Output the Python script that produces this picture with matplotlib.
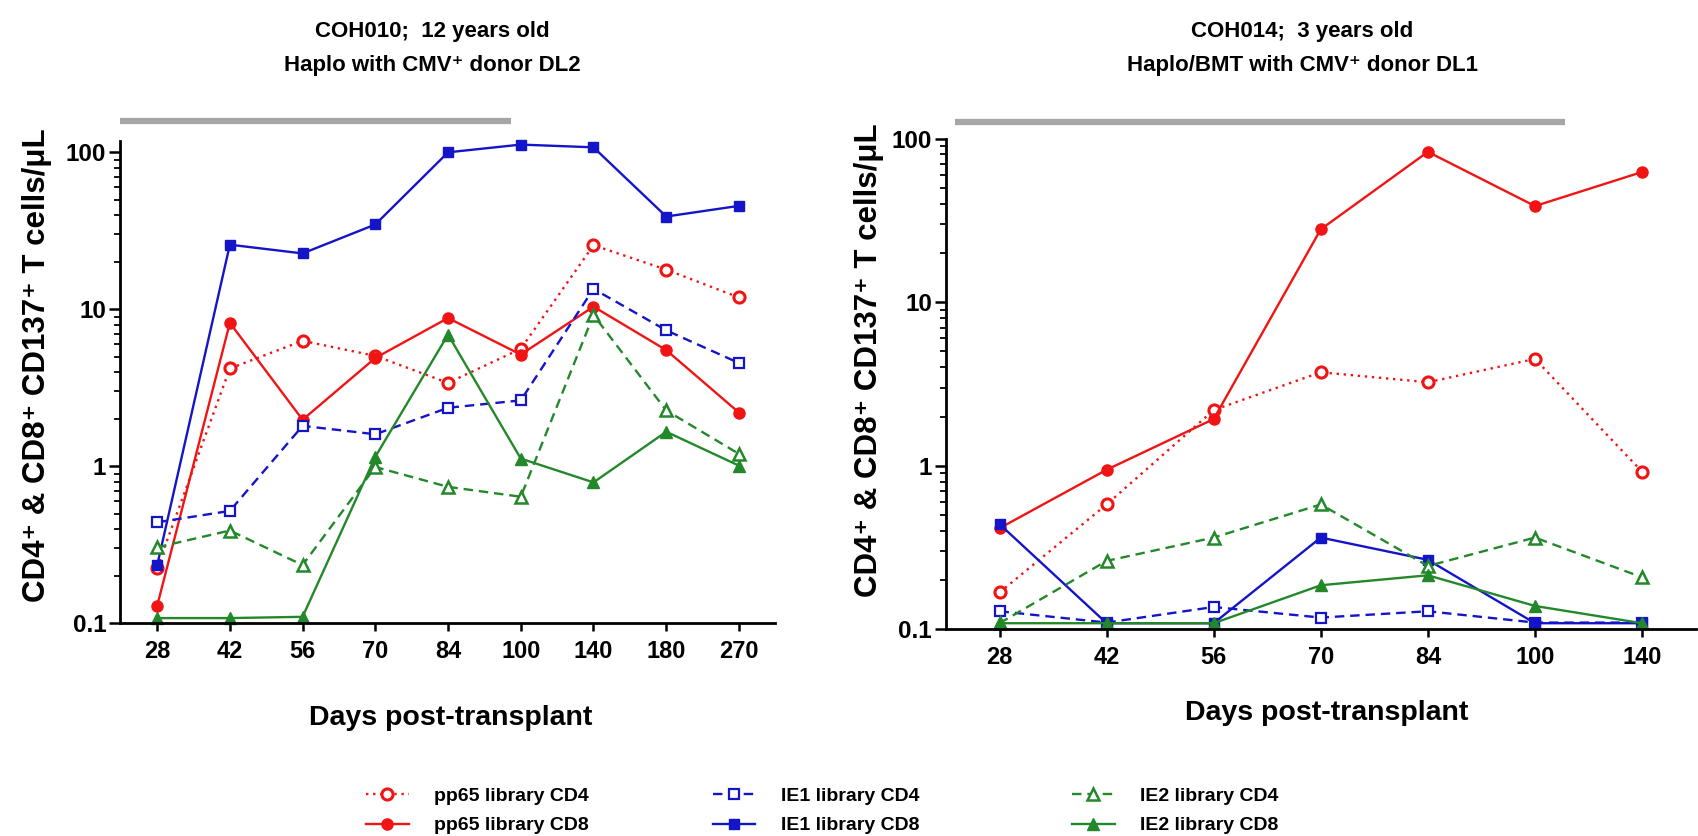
import numpy as np
import matplotlib
matplotlib.use("Agg")
import matplotlib.pyplot as plt
from matplotlib import ticker
from matplotlib.lines import Line2D

# days post-transplant (categorical)
days_left = ['28', '42', '56', '70', '84', '100', '140', '180', '270']
days_right = ['28', '42', '56', '70', '84', '100', '140']

# COH010 values (cells/uL)
pp65_cd4_left = [0.226, 4.2, 6.3, 5.05, 3.4, 5.6, 25.6, 17.9, 11.9]
pp65_cd8_left = [0.129, 8.2, 1.98, 4.9, 8.8, 5.15, 10.4, 5.5, 2.2]
ie1_cd4_left = [0.44, 0.52, 1.81, 1.6, 2.36, 2.63, 13.5, 7.35, 4.55]
ie1_cd8_left = [0.234, 25.8, 22.7, 34.7, 100, 112, 107.6, 39, 45.6]
ie2_cd4_left = [0.305, 0.39, 0.235, 0.99, 0.74, 0.64, 9.2, 2.27, 1.2]
ie2_cd8_left = [0.108, 0.108, 0.11, 1.15, 6.9, 1.12, 0.79, 1.66, 1.01]

# COH014 values
pp65_cd4_right = [0.168, 0.58, 2.19, 3.73, 3.24, 4.5, 0.92]
pp65_cd8_right = [0.415, 0.945, 1.93, 27.9, 83, 38.7, 62.5]
ie1_cd4_right = [0.129, 0.11, 0.137, 0.118, 0.129, 0.11, 0.11]
ie1_cd8_right = [0.44, 0.109, 0.109, 0.364, 0.266, 0.109, 0.109]
ie2_cd4_right = [0.109, 0.262, 0.364, 0.58, 0.244, 0.364, 0.208]
ie2_cd8_right = [0.109, 0.109, 0.109, 0.186, 0.214, 0.139, 0.109]

labels = ['pp65 library CD4', 'pp65 library CD8', 'IE1 library CD4',
          'IE1 library CD8', 'IE2 library CD4', 'IE2 library CD8']

plt.rcParams['font.family'] = ['Liberation Sans', 'DejaVu Sans']
plt.rcParams['font.weight'] = 'bold'
plt.rcParams['axes.labelweight'] = 'bold'

RED = '#f01414'
BLUE = '#1414c8'
GREEN = '#23882a'
DOT = (0, (1, 2))
DASH = (0, (4, 2.5))

styles = [
    dict(color=RED, ls=DOT, marker='o', mfc='white', mew=2.2, ms=8),
    dict(color=RED, ls='-', marker='o', mfc=RED, mew=1, ms=8),
    dict(color=BLUE, ls=DASH, marker='s', mfc='white', mew=1.6, ms=7.5),
    dict(color=BLUE, ls='-', marker='s', mfc=BLUE, mew=1, ms=7.5),
    dict(color=GREEN, ls=DASH, marker='^', mfc='white', mew=1.8, ms=8.5),
    dict(color=GREEN, ls='-', marker='^', mfc=GREEN, mew=1, ms=8.5),
]

fig = plt.figure(figsize=(16.98, 8.36), dpi=100)
ax1 = fig.add_axes([0.0707, 0.2544, 0.3859, 0.5769])
ax2 = fig.add_axes([0.5571, 0.2472, 0.4415, 0.5870])


def draw(ax, days, series, ylim, xlim):
    x = np.arange(len(days))
    for vals, st in zip(series, styles):
        ax.plot(x, vals, lw=1.7, mec=st['color'], clip_on=False, **st)
    ax.set_yscale('log')
    ax.set_ylim(*ylim)
    ax.set_xlim(*xlim)
    ax.set_xticks(x)
    ax.set_xticklabels(days)
    ax.yaxis.set_major_locator(ticker.FixedLocator([0.1, 1, 10, 100]))
    ax.yaxis.set_major_formatter(ticker.FuncFormatter(lambda v, p: '%g' % v))
    ax.yaxis.set_minor_locator(ticker.LogLocator(base=10, subs=np.arange(2, 10)))
    ax.yaxis.set_minor_formatter(ticker.NullFormatter())
    for s in ['top', 'right']:
        ax.spines[s].set_visible(False)
    for s in ['left', 'bottom']:
        ax.spines[s].set_linewidth(2)
    ax.tick_params(axis='y', which='major', length=8, width=1.8, labelsize=17.5, pad=2)
    ax.tick_params(axis='y', which='minor', length=4, width=1.3)
    ax.tick_params(axis='x', length=6, width=1.8, labelsize=17, pad=6)
    ax.set_ylabel('CD4⁺ & CD8⁺ CD137⁺ T cells/μL', fontsize=22.5)
    ax.set_xlabel('Days post-transplant', fontsize=20.5)


draw(ax1, days_left, [pp65_cd4_left, pp65_cd8_left, ie1_cd4_left,
                      ie1_cd8_left, ie2_cd4_left, ie2_cd8_left],
     (0.1, 118), (-0.51, 8.5))
draw(ax2, days_right, [pp65_cd4_right, pp65_cd8_right, ie1_cd4_right,
                       ie1_cd8_right, ie2_cd4_right, ie2_cd8_right],
     (0.1, 100), (-0.5, 6.5))

ax1.yaxis.set_label_coords(-0.104, 0.536)
ax2.yaxis.set_label_coords(-0.082, 0.549)
ax1.xaxis.set_label_coords(0.505, -0.17)
ax2.xaxis.set_label_coords(0.508, -0.145)

# grey bars above the panels
ax1.plot([-0.51, 4.86], [1.0415, 1.0415], color='#a6a6a6', lw=4.5,
         transform=ax1.get_xaxis_transform(), clip_on=False, solid_capstyle='butt')
ax2.plot([-0.42, 5.28], [1.033, 1.033], color='#a6a6a6', lw=4.5,
         transform=ax2.get_xaxis_transform(), clip_on=False, solid_capstyle='butt')

fig.text(0.2544, 0.942, 'COH010;  12 years old\nHaplo with CMV⁺ donor DL2',
         ha='center', va='center', fontsize=16, linespacing=1.85)
fig.text(0.7668, 0.942, 'COH014;  3 years old\nHaplo/BMT with CMV⁺ donor DL1',
         ha='center', va='center', fontsize=16, linespacing=1.85)

# legend: three separate two-row blocks
handles = [Line2D([], [], lw=1.7, mec=st['color'], **st) for st in styles]
col_x = [366 / 1698, 712.6 / 1698, 1072 / 1698]
for i, cx in enumerate(col_x):
    fig.legend(handles[2 * i:2 * i + 2], labels[2 * i:2 * i + 2],
               loc='center left', bbox_to_anchor=(cx, 0.030),
               frameon=False, borderpad=0, borderaxespad=0,
               handlelength=2.2, handletextpad=1.3, labelspacing=0.6,
               prop={'size': 14, 'weight': 'bold'})

fig.savefig('out.png', dpi=100)
